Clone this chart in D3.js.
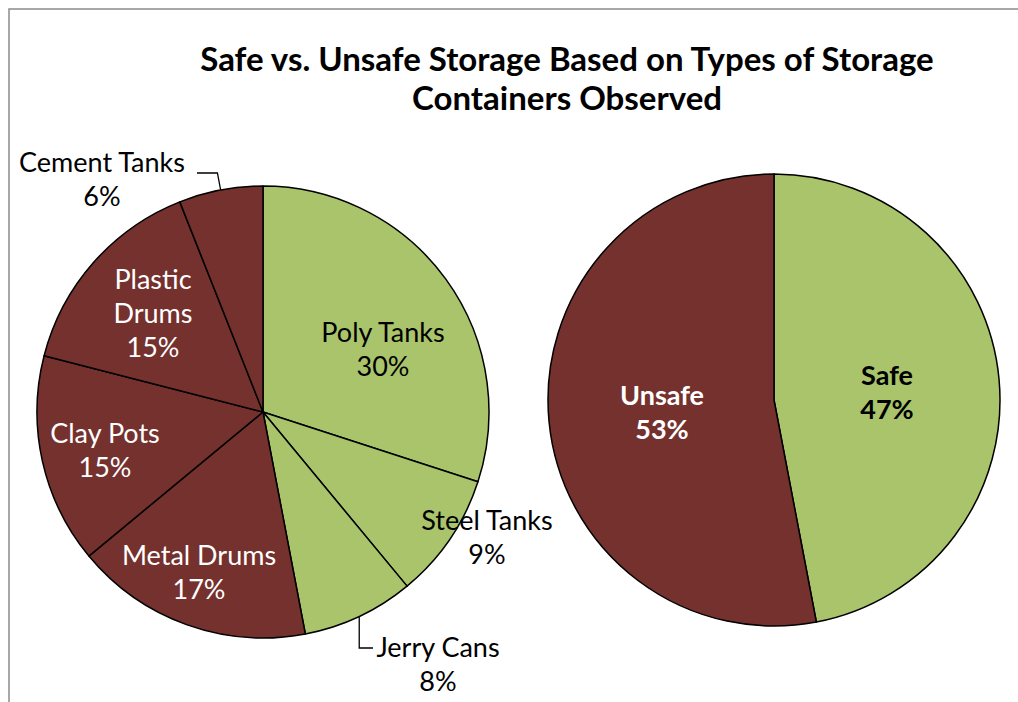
<!DOCTYPE html>
<html>
<head>
<meta charset="utf-8">
<script src="https://cdn.jsdelivr.net/npm/d3@7"></script>
<style>
  html, body { margin: 0; padding: 0; background: #fff; }
  svg text { font-family: Lato, "Open Sans", sans-serif; }
</style>
</head>
<body>
<svg id="chart" width="1018" height="702"></svg>
<script>
// Container types, shares (%) and whether they count as safe storage
const containerTypes = ["Poly Tanks", "Steel Tanks", "Jerry Cans", "Metal Drums", "Clay Pots", "Plastic Drums", "Cement Tanks"];
const containerShares = [30, 9, 8, 17, 15, 15, 6];
const containerSafe = [true, true, true, false, false, false, false];

// Overall split
const storageClasses = ["Safe", "Unsafe"];
const storageShares = [47, 53];

const titleLines = ["Safe vs. Unsafe Storage Based on Types of Storage", "Containers Observed"];

const GREEN = "#a9c46b";
const BROWN = "#74312e";
const LABEL_SIZE = 27;

const svg = d3.select("#chart");

// outer frame
svg.append("rect")
  .attr("x", 9).attr("y", 9).attr("width", 1030).attr("height", 720)
  .attr("fill", "none").attr("stroke", "#8c8c8c").attr("stroke-width", 1.5);

// title
svg.append("g").selectAll("text").data(titleLines).join("text")
  .attr("x", 567).attr("y", (d, i) => 71 + i * 39)
  .attr("text-anchor", "middle")
  .attr("font-size", 33).attr("font-weight", "bold").attr("fill", "#000")
  .text(d => d);

const pie = d3.pie().sort(null).value(d => d.value);
const R = 226;

// ---- left pie: container types ----
const typeData = containerTypes.map((name, i) => ({ name, value: containerShares[i], safe: containerSafe[i] }));
const typeArcs = pie(typeData);
const arc = d3.arc().innerRadius(0).outerRadius(R);

const left = svg.append("g").attr("transform", "translate(263,412)");
left.selectAll("path").data(typeArcs).join("path")
  .attr("d", arc)
  .attr("fill", d => d.data.safe ? GREEN : BROWN)
  .attr("stroke", "#000").attr("stroke-width", 1.5).attr("stroke-linejoin", "round");

// label placement (centre of first line, relative to the pie centre), line wrapping and leaders.
// A leader runs from the slice's mid-angle on the rim to an elbow at elbowY, then horizontally to endX.
const typeLabelLayout = {
  "Poly Tanks":    { x: 120,  y: -79,  lines: ["Poly Tanks"] },
  "Steel Tanks":   { x: 224,  y: 109,  lines: ["Steel Tanks"], outside: true },
  "Jerry Cans":    { x: 175,  y: 236,  lines: ["Jerry Cans"], leader: { elbowY: 236, radial: false, endX: 110 } },
  "Metal Drums":   { x: -64,  y: 144,  lines: ["Metal Drums"] },
  "Clay Pots":     { x: -158, y: 22,   lines: ["Clay Pots"] },
  "Plastic Drums": { x: -110, y: -132, lines: ["Plastic", "Drums"] },
  "Cement Tanks":  { x: -161, y: -249, lines: ["Cement Tanks"], leader: { elbowY: -239, radial: true, endX: -66 } }
};
const LINE = 34;

const polar = (angle, r) => [r * Math.sin(angle), -r * Math.cos(angle)];

typeArcs.forEach(d => {
  const lay = typeLabelLayout[d.data.name];
  const inside = !lay.leader && !lay.outside;
  const color = d.data.safe || !inside ? "#000" : "#fff";
  const lines = lay.lines.concat([d.data.value + "%"]);
  left.append("g").selectAll("text").data(lines).join("text")
    .attr("x", lay.x).attr("y", (t, i) => lay.y + i * LINE)
    .attr("dy", "0.35em")
    .attr("text-anchor", "middle")
    .attr("font-size", LABEL_SIZE).attr("fill", color)
    .text(t => t);
  if (lay.leader) {
    const mid = (d.startAngle + d.endAngle) / 2;
    const p0 = polar(mid, R);
    const ex = lay.leader.radial ? p0[0] * lay.leader.elbowY / p0[1] : p0[0];
    const p1 = [ex, lay.leader.elbowY];
    left.append("polyline")
      .attr("points", [p0, p1, [lay.leader.endX, p1[1]]].map(p => p.join(",")).join(" "))
      .attr("fill", "none").attr("stroke", "#000").attr("stroke-width", 1.3);
  }
});

// ---- right pie: safe vs unsafe ----
const classData = storageClasses.map((name, i) => ({ name, value: storageShares[i] }));
const classArcs = pie(classData);
const right = svg.append("g").attr("transform", "translate(774,400)");
right.selectAll("path").data(classArcs).join("path")
  .attr("d", arc)
  .attr("fill", d => d.data.name === "Safe" ? GREEN : BROWN)
  .attr("stroke", "#000").attr("stroke-width", 1.5).attr("stroke-linejoin", "round");

const classLabelLayout = {
  "Safe":   { x: 113,  y: -24 },
  "Unsafe": { x: -112, y: -4 }
};
classArcs.forEach(d => {
  const lay = classLabelLayout[d.data.name];
  right.append("g").selectAll("text").data([d.data.name, d.data.value + "%"]).join("text")
    .attr("x", lay.x).attr("y", (t, i) => lay.y + i * LINE)
    .attr("dy", "0.35em")
    .attr("text-anchor", "middle")
    .attr("font-size", LABEL_SIZE).attr("font-weight", "bold")
    .attr("fill", d.data.name === "Safe" ? "#000" : "#fff")
    .text(t => t);
});
</script>
</body>
</html>
